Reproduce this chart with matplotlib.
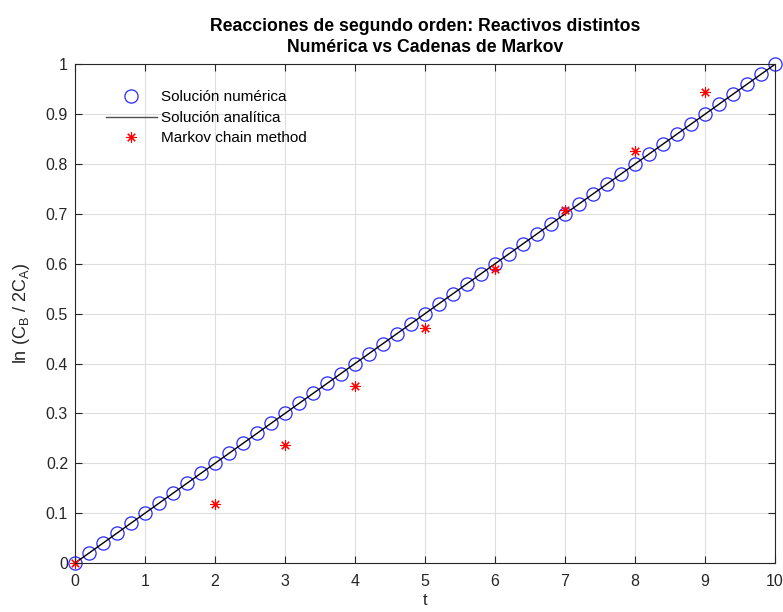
import numpy as np
import matplotlib.pyplot as plt

plt.rcParams['font.family'] = ['Liberation Sans', 'DejaVu Sans']

# solucion numerica (cada 0.2)
t_num = [0.0, 0.2, 0.4, 0.6, 0.8, 1.0, 1.2, 1.4, 1.6, 1.8,
         2.0, 2.2, 2.4, 2.6, 2.8, 3.0, 3.2, 3.4, 3.6, 3.8,
         4.0, 4.2, 4.4, 4.6, 4.8, 5.0, 5.2, 5.4, 5.6, 5.8,
         6.0, 6.2, 6.4, 6.6, 6.8, 7.0, 7.2, 7.4, 7.6, 7.8,
         8.0, 8.2, 8.4, 8.6, 8.8, 9.0, 9.2, 9.4, 9.6, 9.8, 10.0]
y_num = [0.00, 0.02, 0.04, 0.06, 0.08, 0.10, 0.12, 0.14, 0.16, 0.18,
         0.20, 0.22, 0.24, 0.26, 0.28, 0.30, 0.32, 0.34, 0.36, 0.38,
         0.40, 0.42, 0.44, 0.46, 0.48, 0.50, 0.52, 0.54, 0.56, 0.58,
         0.60, 0.62, 0.64, 0.66, 0.68, 0.70, 0.72, 0.74, 0.76, 0.78,
         0.80, 0.82, 0.84, 0.86, 0.88, 0.90, 0.92, 0.94, 0.96, 0.98, 1.00]

# solucion analitica
t_ana = [0.0, 10.0]
y_ana = [0.0, 1.0]

# cadenas de Markov
t_mk = [0, 2, 3, 4, 5, 6, 7, 8, 9]
y_mk = [0.0, 0.118, 0.236, 0.354, 0.472, 0.590, 0.707, 0.826, 0.944]

xticks = [0, 1, 2, 3, 4, 5, 6, 7, 8, 9, 10]
yticks = [0, 0.1, 0.2, 0.3, 0.4, 0.5, 0.6, 0.7, 0.8, 0.9, 1]
ylabels = ['0', '0.1', '0.2', '0.3', '0.4', '0.5', '0.6', '0.7', '0.8', '0.9', '1']

fig = plt.figure(figsize=(7.83, 6.12), dpi=100)
ax = fig.add_axes([0.0958, 0.080, 0.894, 0.815])

ax.plot(t_num, y_num, 'o', color='#2828ff', mfc='none', ms=9.5, mew=0.9,
        clip_on=False, label='Solución numérica')
ax.plot(t_ana, y_ana, '-', color='black', lw=1.0, label='Solución analítica')
ax.plot(t_mk, y_mk, linestyle='none', marker=(8, 2, 0), color='red', ms=7.5,
        mew=0.8, clip_on=False, label='Markov chain method')

ax.set_xlim(0, 10)
ax.set_ylim(0, 1)
ax.set_xticks(xticks)
ax.set_yticks(yticks)
ax.set_yticklabels(ylabels)
ax.grid(True, color='#dedede', lw=0.8)
ax.set_axisbelow(True)
ax.tick_params(direction='in', top=True, right=True, labelsize=11.5,
               colors='#262626', length=5)
ax.tick_params(axis='x', pad=8)
ax.tick_params(axis='y', pad=5)
for s in ax.spines.values():
    s.set_color('#262626')
    s.set_linewidth(0.8)

ax.set_xlabel('t', fontsize=12, color='#262626', labelpad=3)
ax.set_ylabel(r'ln (C$_\mathregular{B}$ / 2C$_\mathregular{A}$)', fontsize=13,
              color='#262626', labelpad=10)
ax.set_title('Reacciones de segundo orden: Reactivos distintos\n'
             'Numérica vs Cadenas de Markov', fontsize=12.7, fontweight='bold',
             color='black', pad=9, linespacing=1.3)

leg = ax.legend(loc='upper left', bbox_to_anchor=(0.025, 0.975), frameon=False,
                fontsize=11, handlelength=3.3, handletextpad=0.3,
                labelspacing=0.42)
leg.get_lines()[1].set_color('#505050')

plt.savefig('out.png', dpi=100)
